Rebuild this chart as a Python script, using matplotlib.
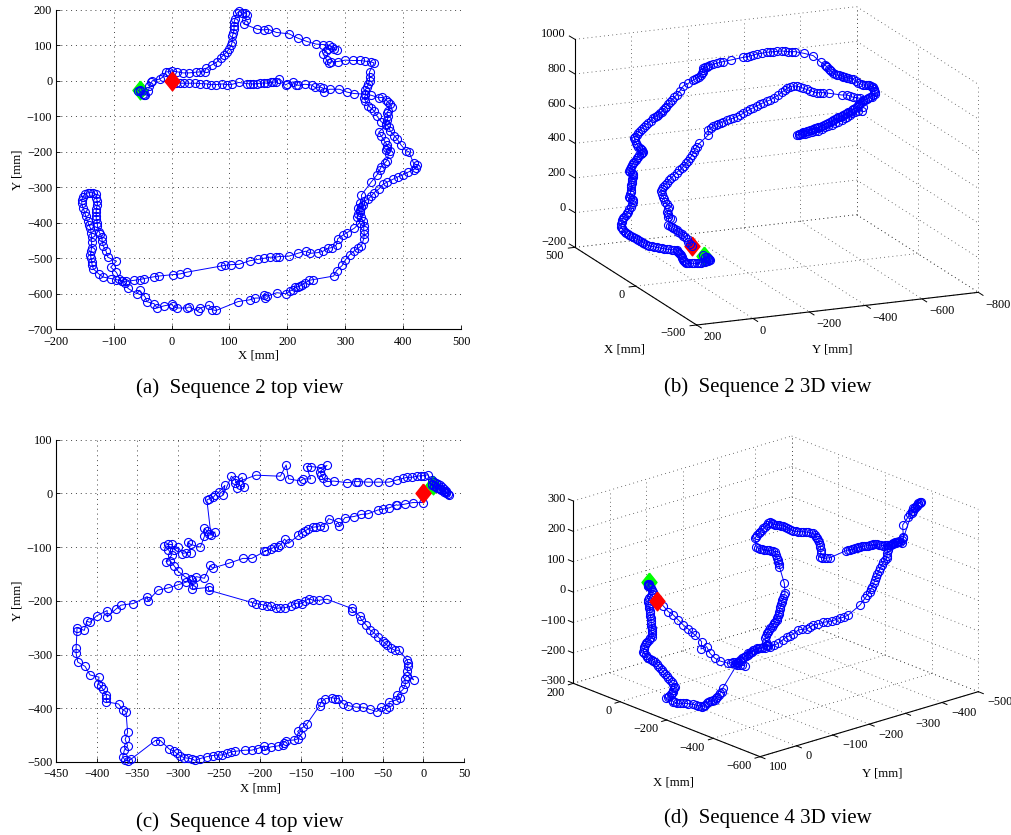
import numpy as np
import matplotlib
matplotlib.use("Agg")
import matplotlib.pyplot as plt

plt.rcParams['font.family'] = ['Liberation Serif', 'DejaVu Serif']
plt.rcParams['axes.unicode_minus'] = True

BLUE = '#0000ff'
RED = '#ff0000'
GREEN = '#00ff00'
GRID = '#444444'
DIAMOND = [(0, 1), (0.8, 0), (0, -1), (-0.8, 0), (0, 1)]

captions = ['(a)  Sequence 2 top view', '(b)  Sequence 2 3D view',
            '(c)  Sequence 4 top view', '(d)  Sequence 4 3D view']

# ---- Sequence 2, top view: X, Y in mm
seq2_top_xy = [
 (0,-2),(8,-6),(15,-7),(22,-7),(30,-7),(40,-7),(50,-8),(60,-9),(68,-11),(77,-11),(88,-9),(95,-11),(105,-10),
 (116,-5),(130,-8),(135,-9),(140,-9),(148,-8),(153,-7),(160,-6),(165,-7),(172,-5),(175,-4),(180,-3),(186,6),
 (197,-12),(200,-9),(210,-3),(215,-11),(219,-13),(230,-10),(242,-12),(248,-19),(257,-18),(262,-21),(263,-33),
 (273,-24),(290,-24),(303,-32),(315,-36),(335,-38),(345,-41),(358,-48),(364,-47),(370,-53),(374,-60),(378,-66),
 (380,-75),(374,-85),(372,-92),(374,-100),(373,-110),(370,-122),(375,-130),(378,-142),(385,-155),(390,-165),
 (396,-180),(405,-197),(410,-200),(418,-232),(424,-238),(422,-247),(418,-250),(408,-258),(400,-265),(392,-270),
 (382,-278),(373,-285),(365,-292),(358,-305),(350,-315),(345,-325),(340,-333),(332,-340),(325,-345),(322,-358),
 (325,-370),(328,-385),(330,-395),(332,-410),(332,-420),(333,-432),(332,-445),(328,-465),(322,-472),(315,-480),
 (308,-490),(300,-505),(295,-520),(285,-535),(280,-550),(245,-560),(238,-562),(230,-570),(225,-575),(222,-578),
 (218,-580),(214,-582),(210,-588),(205,-592),(198,-600),(182,-597),(165,-607),(160,-603),(162,-612),(145,-612),
 (135,-617),(115,-622),(77,-647),(70,-645),(65,-632),(50,-640),(45,-648),(30,-637),(27,-640),(10,-640),(3,-635),
 (0,-630),(-13,-634),(-25,-640),(-30,-628),(-43,-622),(-45,-610),(-55,-590),(-60,-600),(-75,-585),(-80,-570),
 (-85,-565),(-90,-557),(-95,-540),(-105,-525),(-95,-508),(-110,-497),(-113,-480),(-118,-465),(-120,-450),(-120,-440),
 (-123,-432),(-125,-425),(-128,-410),(-128,-400),(-130,-390),(-130,-380),(-130,-370),(-130,-360),(-128,-350),
 (-128,-340),(-130,-330),(-130,-320),(-135,-316),(-140,-315),(-145,-316),(-150,-320),(-153,-327),(-155,-335),
 (-155,-345),(-153,-358),(-150,-370),(-148,-382),(-145,-395),(-143,-405),(-140,-415),(-139,-428),(-138,-440),
 (-138,-455),(-138,-470),(-139,-480),(-140,-490),(-139,-500),(-138,-510),(-137,-520),(-135,-530),(-125,-545),
 (-118,-553),(-105,-557),(-95,-560),(-85,-565),
 (-78,-565),(-65,-562),(-55,-560),(-47,-557),(-30,-552),(-22,-550),(3,-546),(15,-544),(27,-539),(85,-522),
 (92,-520),(103,-518),(117,-517),(135,-507),(150,-503),(160,-500),(170,-497),(180,-497),(186,-495),(203,-494),
 (218,-486),(232,-480),(240,-486),(253,-484),(262,-480),(270,-472),(277,-470),(285,-462),(287,-445),(296,-435),
 (303,-428),(316,-415),(325,-400),(320,-385),(322,-375),(325,-365),(328,-355),(330,-350),(328,-322),(345,-285),
 (355,-265),(360,-250),(362,-243),(368,-232),(372,-225),(375,-205),(370,-195),(373,-190),(378,-197),(372,-180),
 (368,-170),(362,-155),(358,-145),(370,-125),(362,-115),(355,-100),(350,-85),(345,-78),(340,-70),(335,-58),
 (333,-48),(335,-40),(335,-25),(338,-18),(340,-10),(342,0),(342,10),(342,25),(350,50),(345,53),(335,55),(325,57),
 (313,57),(300,58),(287,54),(275,53),(272,50),(268,58),(262,75),(266,85),(270,90),(280,88),(285,87),(278,95),
 (272,100),(262,102),(250,103),(233,111),(218,120),(203,132),(181,136),(167,145),(160,143),(148,145),(125,160),
 (128,170),(130,185),(127,192),(122,190),(117,195),(113,190),(110,175),(108,165),(108,155),(108,145),(107,135),
 (105,125),(105,110),(103,100),(100,90),(95,80),(90,72),(85,65),(78,52),(70,45),(60,35),(57,25),(50,25),(42,24),
 (30,22),(20,22),(10,25),(0,28),(-5,25),(-10,25),(-15,10),(-20,5),(-33,0),(-35,-5),(-38,-15),(-40,-30),(-45,-40),
 (-48,-40),(-50,-38),(-55,-30),(-57,-28),(-55,-25)]
seq2_top_start = (-55, -25)
seq2_top_end = (0, 0)

# ---- Sequence 4, top view: X, Y in mm
seq4_top_xy = [
 (-1,-17),(-13,-17),(-23,-20),(-32,-22),(-33,-21),(-42,-27),(-49,-29),(-56,-31),(-68,-38),(-76,-39),(-85,-43),
 (-96,-45),(-103,-60),(-105,-53),(-116,-47),(-122,-62),(-126,-60),(-131,-62),(-135,-63),(-141,-66),(-145,-70),
 (-149,-73),(-153,-78),(-165,-93),(-170,-85),(-175,-96),(-178,-100),(-183,-100),(-186,-103),(-195,-108),
 (-193,-107),(-210,-121),(-221,-121),(-238,-130),(-258,-139),(-261,-134),(-268,-158),(-278,-155),(-283,-162),
 (-290,-165),(-300,-170),(-312,-176),(-325,-180),(-337,-200),(-338,-192),(-355,-205),(-370,-208),(-376,-215),
 (-387,-230),(-387,-218),(-400,-228),(-408,-240),(-412,-238),(-415,-255),(-424,-250),(-424,-257),(-425,-287),
 (-425,-298),(-423,-314),(-414,-322),(-408,-338),(-397,-342),(-398,-355),(-395,-358),(-392,-365),(-388,-375),
 (-388,-380),(-388,-388),(-373,-392),(-368,-403),(-364,-406),(-362,-445),(-365,-458),(-362,-470),(-366,-478),
 (-368,-490),(-365,-497),(-361,-498),(-358,-495),(-328,-460),(-322,-460),(-311,-476),(-305,-480),(-302,-484),
 (-298,-488),(-293,-492),(-288,-493),(-283,-494),(-280,-497),(-274,-494),(-265,-490),(-258,-488),(-252,-487),
 (-247,-487),(-240,-484),(-235,-481),(-230,-480),(-218,-478),(-210,-478),(-203,-475),(-195,-470),(-194,-477),
 (-187,-472),(-178,-470),(-172,-468),(-171,-464),(-168,-460),(-158,-459),(-154,-457),(-150,-450),(-154,-443),
 (-147,-435),(-143,-430),(-127,-395),(-125,-388),(-120,-382),(-112,-380),(-108,-382),(-104,-382),(-98,-392),
 (-92,-395),(-83,-398),(-74,-398),(-66,-402),(-57,-406),(-52,-398),(-46,-402),(-42,-398),(-42,-388),(-34,-385),
 (-29,-380),(-32,-375),(-25,-365),(-22,-355),(-23,-345),(-20,-340),(-12,-347),(-20,-330),(-19,-322),(-19,-315),
 (-20,-310),(-30,-292),(-35,-292),(-40,-288),(-45,-282),(-47,-279),(-50,-275),(-55,-268),(-60,-260),(-65,-255),
 (-70,-245),(-76,-235),(-78,-228),(-87,-218),(-88,-214),(-118,-197),(-128,-199),(-135,-199),(-140,-196),
 (-145,-200),(-148,-205),(-153,-204),(-157,-205),(-162,-210),(-170,-213),(-175,-213),(-180,-214),(-187,-210),
 (-192,-209),(-198,-207),(-205,-205),(-210,-203),(-263,-180),(-263,-175),(-283,-178),(-282,-170),(-285,-160),
 (-292,-155),(-300,-145),(-305,-135),(-310,-125),(-315,-127),(-308,-115),(-312,-105),(-317,-97),(-313,-95),
 (-308,-95),(-305,-105),(-300,-100),(-295,-112),(-290,-110),(-285,-110),(-288,-90),(-285,-95),(-273,-100),
 (-268,-80),(-268,-65),(-265,-70),(-262,-75),(-255,-72),(-260,-78),(-265,-12),(-262,-10),(-257,-7),(-255,-3),
 (-250,3),(-243,15),(-245,-3),(-235,32),(-230,25),(-228,10),(-225,15),(-220,12),(-222,30),(-230,20),(-205,34),
 (-175,32),(-168,53),(-165,27),(-150,23),(-147,27),(-138,27),(-143,50),(-138,50),(-125,48),(-118,52),(-127,40),
 (-125,35),(-123,28),(-118,22),(-110,23),(-93,20),(-83,22),(-80,22),(-68,21),(-56,21),(-42,21),(-32,25),(-25,28),
 (-20,30),(-14,30),(-8,32),(-3,33),(1,33),(5,35),(10,25),(13,22),(15,20),(18,17),(20,15),(23,12),(25,8),(27,5),
 (28,0),(31,-3),(30,-1),(28,2),(26,4),(25,2),(22,6),(20,8),(19,10),(17,10),(15,12),(13,14),(11,15),(11,17)]
seq4_top_start = (12, 15)
seq4_top_end = (0, 0)

# ---- 3D panels: path in projected view coordinates
seq2_view_uv = [
 (455,737),(450,731),(445,725),(440,718),(435,712),(430,707),(425,703),(420,699),(415,695),(410,691),(405,688),
 (400,685),(395,682),(390,678),(385,675),(395,658),(390,654),(385,650),(383,642),(382,635),(385,627),(388,620),
 (381,612),(375,605),(372,597),(370,590),(365,581),(362,572),(366,566),(370,560),(375,554),(380,548),(386,541),
 (392,535),(401,527),(410,518),(417,511),(425,505),(431,497),(438,490),(444,482),(450,475),(456,465),(462,455),
 (466,447),(470,440),(478,430),(505,405),(505,390),(512,384),(520,378),(527,375),(535,372),(542,368),(550,365),
 (560,361),(570,358),(580,354),(590,350),(600,345),(610,340),(620,334),(630,328),(640,323),(650,318),(660,313),
 (670,308),(680,304),(690,300),(702,293),(715,285),(725,277),(735,270),(742,265),(750,260),(760,258),(770,258),
 (780,261),(790,265),(800,268),(810,272),(820,275),(830,278),(840,278),(850,278),(868,280),(905,285),(920,285),
 (930,288),(940,292),(950,293),(960,295),(970,300),(968,320),(965,333),(955,334),(945,335),(937,340),(930,345),
 (922,350),(915,355),(905,360),(895,365),(885,370),(875,375),(865,378),(855,382),(845,387),(835,392),(825,394),
 (815,397),(805,399),(795,402),(786,403),(778,405),(772,405),(776,403),(780,402),(785,398),(790,397),(795,396),
 (800,394),(805,392),(810,391),(815,390),(820,387),(825,385),(830,383),(835,382),(840,380),(845,378),(852,375),
 (858,372),(864,368),(870,365),(875,362),(880,360),(885,357),(890,355),(895,352),(900,350),(905,347),(910,345),
 (915,342),(920,340),(925,337),(930,335),(935,331),(940,328),(945,324),(950,320),(954,316),(958,312),(961,308),
 (965,305),(970,302),(975,300),(980,297),(985,295),(990,292),(995,290),(1000,286),(1005,282),(1004,277),(1003,272),
 (1001,267),(1000,262),(996,260),(992,258),(988,256),(985,255),(977,255),(970,255),(962,252),(955,248),(947,243),
 (940,238),(932,236),(925,235),(920,233),(915,232),(910,230),(905,228),(897,226),(890,225),(884,221),(878,218),
 (874,214),(870,210),(866,206),(862,202),(858,198),(855,195),(842,187),(820,167),(792,160),(765,155),(755,155),
 (745,155),(735,154),(725,153),(712,154),(700,155),(690,156),(680,157),(665,160),(650,162),(640,165),(630,168),
 (620,170),(610,172),(573,180),(550,185),(540,187),(530,190),(520,192),(510,195),(505,197),(500,200),(495,202),
 (490,205),(489,210),(488,215),(485,220),(482,225),(476,230),(470,235),(465,237),(460,240),(445,250),(430,258),
 (420,272),(410,285),(402,292),(395,300),(390,306),(385,312),(378,320),(374,325),(370,330),(365,335),(360,340),
 (355,344),(350,348),(345,351),(340,355),(332,362),(325,368),(318,374),(312,380),(306,386),(300,392),(295,398),
 (290,405),(286,410),(283,415),(285,421),(288,428),(291,434),(295,440),(299,444),(303,448),(307,451),(310,455),
 (306,459),(302,463),(298,466),(295,470),(291,475),(287,480),(283,485),(280,490),(276,495),(273,500),(270,506),
 (268,513),(271,517),(275,520),(278,522),(280,525),(278,531),(277,538),(276,544),(275,550),(274,556),(273,562),
 (272,569),(272,575),(270,582),(268,590),(271,594),(275,598),(278,601),(280,605),(276,612),(272,620),(268,627),
 (265,635),(261,640),(257,645),(253,650),(250,655),(247,661),(245,667),(244,673),(243,680),(246,685),(250,690),
 (254,695),(258,700),(263,703),(268,706),(274,709),(280,712),(285,714),(290,717),(295,719),(300,722),(305,725),
 (310,728),(315,731),(320,735),(327,737),(335,739),(342,740),(350,742),(357,743),(365,745),(372,746),(380,748),
 (387,748),(395,749),(402,749),(410,750),(412,752),(415,755),(417,758),(420,762),(422,766),(425,770),(427,775),
 (430,780),(432,783),(435,786),(437,788),(440,790),(447,790),(455,790),(462,790),(470,790),(476,789),(482,788),
 (488,786),(495,785),(499,784),(503,783),(506,781),(510,780),(507,777),(505,775),(500,772),(495,770),(490,765)]
seq2_view_start = (492, 767)
seq2_view_end = (455, 737)

seq4_view_uv = [
 (352,528),(370,543),(385,560),(400,570),(415,585),(430,600),(445,612),(455,622),(465,630),(485,650),(483,672),
 (500,665),(510,685),(525,700),(540,708),(565,715),(572,713),(580,710),(587,712),(595,715),(602,707),(610,700),
 (617,692),(625,685),(632,680),(640,675),(650,672),(660,670),(670,665),(680,660),(677,650),(675,640),(677,632),
 (680,625),(684,620),(688,615),(691,610),(695,605),(699,600),(703,595),(706,590),(710,585),(712,578),(715,572),
 (716,566),(718,560),(719,552),(721,545),(723,537),(725,530),(727,524),(730,518),(732,511),(735,505),(733,475),
 (718,425),(716,418),(715,412),(713,405),(712,400),(708,390),(705,380),(698,378),(692,377),(686,376),(680,375),
 (673,374),(667,373),(661,371),(655,370),(648,365),(645,340),(648,335),(652,330),(656,325),(660,320),(665,315),
 (670,310),(675,305),(680,300),(685,295),(690,290),(695,293),(700,297),(705,299),(710,300),(716,301),(722,302),
 (728,303),(735,305),(741,308),(747,312),(753,315),(760,318),(767,319),(775,320),(782,320),(790,320),(797,321),
 (805,322),(812,323),(820,325),(824,330),(828,335),(831,340),(835,345),(837,352),(840,360),(841,367),(843,375),
 (842,385),(840,395),(847,398),(855,400),(862,399),(870,398),(918,377),(924,375),(930,374),(935,373),(940,372),
 (945,370),(950,368),(955,366),(960,365),(966,364),(972,364),(978,363),(985,362),(990,361),(995,360),(1000,358),
 (1005,357),(1011,358),(1018,360),(1024,361),(1030,362),(1035,361),(1040,361),(1045,360),(1050,360),(1055,357),
 (1060,354),(1065,352),(1070,350),(1077,348),(1085,345),(1088,340),(1090,335),(1088,300),(1105,275),(1110,266),
 (1115,258),(1120,250),(1125,245),(1130,240),(1135,235),(1140,232),(1143,230),(1139,233),(1135,237),(1130,243),
 (1125,250),(1120,257),(1115,265),(1085,355),(1080,352),(1075,350),(1067,354),(1060,358),(1052,361),(1045,365),
 (1043,375),(1042,385),(1041,392),(1040,400),(1035,406),(1030,412),(1025,421),(1020,430),(1016,439),(1012,448),
 (1008,456),(1005,465),(1001,475),(997,485),(993,492),(990,500),(982,510),(975,520),(960,540),(925,570),(912,576),
 (900,580),(888,584),(875,588),(862,590),(850,592),(835,597),(820,600),(810,606),(800,612),(787,613),(775,615),
 (760,627),(750,632),(740,635),(728,645),(715,655),(703,660),(690,665),(685,662),(680,660),(675,668),(665,670),
 (658,670),(650,670),(643,675),(637,680),(631,685),(625,690),(618,692),(612,695),(606,700),(600,705),(595,710),
 (590,715),(585,718),(615,722),(607,721),(600,720),(590,720),(548,790),(545,800),(540,805),(536,810),(532,815),
 (528,820),(525,825),(520,826),(515,828),(510,829),(505,830),(500,835),(495,840),(491,843),(487,845),(481,843),
 (475,842),(467,840),(460,838),(445,836),(437,835),(430,835),(420,835),(410,835),(405,832),(400,830),(395,825),
 (378,820),(383,816),(388,812),(392,808),(395,805),(398,800),(400,795),(402,790),(405,785),(400,778),(395,772),
 (390,766),(385,760),(380,754),(375,748),(370,741),(365,735),(360,729),(355,723),(350,717),(345,712),(340,709),
 (335,706),(330,703),(325,700),(321,695),(317,690),(313,685),(310,680),(311,673),(313,667),(315,661),(318,655),
 (322,650),(327,645),(331,640),(335,635),(335,628),(335,622),(335,616),(335,610),(334,602),(334,595),(333,587),
 (333,580),(331,572),(330,565),(329,557),(328,550),(327,543),(326,537),(325,531),(325,525),(328,518),(332,512),
 (336,506),(340,500),(336,495),(332,490),(329,486),(325,482),(325,480),(324,478),(326,476),(327,480),(325,484)]
seq4_view_start = (327, 470)
seq4_view_end = (352, 528)

seq2_ticks_x = [500, 0, -500]
seq2_ticks_y = [200, 0, -200, -400, -600, -800]
seq2_ticks_z = [-200, 0, 200, 400, 600, 800, 1000]
seq4_ticks_x = [200, 0, -200, -400, -600]
seq4_ticks_y = [100, 0, -100, -200, -300, -400, -500]
seq4_ticks_z = [-300, -200, -100, 0, 100, 200, 300]

W, H = 1012, 835
fig = plt.figure(figsize=(W / 100, H / 100), dpi=100)


def px_axes(l, t, r, b, **kw):
    return fig.add_axes([l / W, 1 - b / H, (r - l) / W, (b - t) / H], **kw)


def draw_path(ax, xy, start, end, red_on_top=True):
    xy = np.array(xy, float)
    ax.plot(*start, marker=DIAMOND, ms=13.5, color=GREEN, mec=GREEN, ls='none', zorder=2, clip_on=False)
    ax.plot(xy[:, 0], xy[:, 1], '-', color=BLUE, lw=0.7, marker='o', ms=5.8, mfc='none', mew=0.8,
            zorder=3, clip_on=False)
    ax.plot(*end, marker=DIAMOND, ms=13.5, color=RED, mec=RED, ls='none',
            zorder=4 if red_on_top else 2.5, clip_on=False)


def top_panel(box, xticks, yticks, xy, start, end):
    ax = px_axes(*box)
    ax.set_xlim(xticks[0], xticks[-1])
    ax.set_ylim(yticks[0], yticks[-1])
    ax.set_xticks(xticks)
    ax.set_yticks(yticks)
    ax.grid(True, color=GRID, ls=(0, (1, 4)), lw=0.7)
    ax.set_axisbelow(True)
    ax.spines['top'].set_visible(False)
    ax.spines['right'].set_visible(False)
    for s in ('left', 'bottom'):
        ax.spines[s].set_linewidth(0.8)
    ax.tick_params(direction='in', length=3, width=0.6, labelsize=8.8)
    ax.tick_params(axis='x', pad=4.5)
    ax.tick_params(axis='y', pad=2.5)
    ax.set_xlabel('X [mm]', fontsize=9.2, labelpad=1.5)
    ax.set_ylabel('Y [mm]', fontsize=9.2, labelpad=2.5)
    draw_path(ax, xy, start, end)
    return ax


def view_panel(box, origin, ex, ey, ez, xt, yt, zt, ticks_dirs, xoff, yoff, zoff, xlab, ylab, xy, start, end,
               red_on_top):
    """origin is the (xmax, ymax, zmin) corner; ex, ey, ez are view offsets spanning each axis."""
    l, t, r, b = box
    ax = px_axes(l, t, r, b)
    ax.set_xlim(0, (r - l) * 3)
    ax.set_ylim((b - t) * 3, 0)
    ax.axis('off')
    o = np.array(origin, float)
    ex, ey, ez = map(lambda v: np.array(v, float), (ex, ey, ez))

    def fx(v):
        return (xt[0] - v) / (xt[0] - xt[-1])

    def fy(v):
        return (yt[0] - v) / (yt[0] - yt[-1])

    def fz(v):
        return (v - zt[0]) / (zt[-1] - zt[0])

    def seg(p, q, **kw):
        ax.plot([p[0], q[0]], [p[1], q[1]], clip_on=False, **kw)

    grid = dict(color=GRID, ls=(0, (1, 4)), lw=0.6, zorder=1)
    axis = dict(color='black', lw=0.8, zorder=1.5)
    for v in xt:  # floor lines and the wall at Y min
        p = o + fx(v) * ex
        seg(p, p + ey, **grid)
        seg(p + ey, p + ey + ez, **grid)
    for v in yt:  # floor lines and the wall at X max
        p = o + fy(v) * ey
        seg(p, p + ex, **grid)
        seg(p, p + ez, **grid)
    for v in zt:
        p = o + fz(v) * ez
        seg(p, p + ey, **grid)
        seg(p + ey, p + ey + ex, **grid)
    seg(o, o + ez, **axis)
    seg(o, o + ex, **axis)
    seg(o + ex, o + ex + ey, **axis)
    dx, dy, dz = [np.array(d, float) for d in ticks_dirs]
    for v in xt:
        p = o + fx(v) * ex
        seg(p, p + dx, color='black', lw=0.7, zorder=1.5)
        ax.text(p[0] + xoff[0], p[1] + xoff[1], f'{v}'.replace('-', '\u2212'), ha='right', va='center', fontsize=8.8)
    for v in yt:
        p = o + ex + fy(v) * ey
        seg(p, p + dy, color='black', lw=0.7, zorder=1.5)
        ax.text(p[0] + yoff[0], p[1] + yoff[1], f'{v}'.replace('-', '\u2212'), ha='left', va='center', fontsize=8.8)
    for v in zt:
        p = o + fz(v) * ez
        seg(p, p + dz, color='black', lw=0.7, zorder=1.5)
        ax.text(p[0] + zoff[0], p[1] + zoff[1], f'{v}'.replace('-', '\u2212'), ha='right', va='center', fontsize=8.8)
    ax.text(*xlab, 'X [mm]', ha='center', va='center', fontsize=9.2)
    ax.text(*ylab, 'Y [mm]', ha='center', va='center', fontsize=9.2)
    draw_path(ax, xy, start, end, red_on_top)
    return ax


top_panel((55.7, 9.7, 461, 329.3), list(range(-200, 501, 100)), list(range(-700, 201, 100)),
          seq2_top_xy, seq2_top_start, seq2_top_end)
top_panel((55.7, 439.7, 464.3, 762), list(range(-450, 51, 50)), list(range(-500, 101, 100)),
          seq4_top_xy, seq4_top_start, seq4_top_end)

view_panel((540, 0, 1012, 370), (105, 742), (365, 233), (845, -98), (0, -624),
           seq2_ticks_x, seq2_ticks_y, seq2_ticks_z, ((-20, 2.3), (14, 9), (-17, -10)),
           (-33, 25), (21, 37), (-27, -15), (252, 1048), (877, 1048),
           seq2_view_uv, seq2_view_start, seq2_view_end, False)
view_panel((540, 425, 1012, 795), (100, 775), (560, 220), (655, -195), (0, -547),
           seq4_ticks_x, seq4_ticks_y, seq4_ticks_z, ((-15, 4.5), (15, 6), (-15, -6)),
           (-25, 28), (28, 31), (-23, -6), (400, 1072), (1027, 1045),
           seq4_view_uv, seq4_view_start, seq4_view_end, True)

for txt, x, y in zip(captions, (240, 768, 240, 768), (388, 387, 822, 818)):
    fig.text(x / W, 1 - y / H, txt, ha='center', va='center', fontsize=15)

fig.savefig('out.png', dpi=100)
